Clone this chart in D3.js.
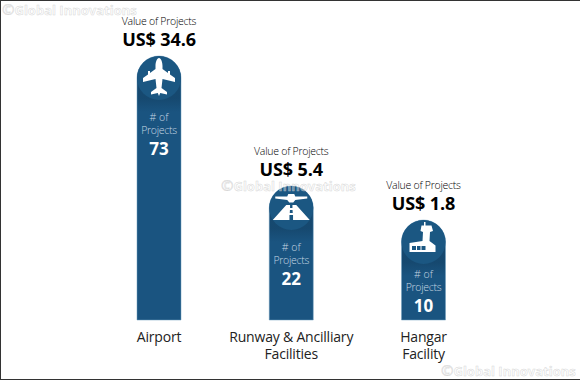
<!DOCTYPE html>
<html>
<head>
<meta charset="utf-8">
<script src="https://cdnjs.cloudflare.com/ajax/libs/d3/7.8.5/d3.min.js"></script>
<style>
html, body { margin: 0; padding: 0; background: #fff; }
svg { display: block; }
text { font-family: "Open Sans", sans-serif; text-anchor: middle; }
</style>
</head>
<body>
<script>
const categories = [["Airport"], ["Runway & Ancilliary", "Facilities"], ["Hangar", "Facility"]];
const projectValues = [34.6, 5.4, 1.8];
const projectCounts = [73, 22, 10];
const iconNames = ["plane", "runway", "tower"];

const width = 580, height = 380;
const barWidth = 44, radius = 22;

const svg = d3.select("body").append("svg")
    .attr("width", width)
    .attr("height", height);

// marco oscuro de la imagen
svg.append("rect").attr("width", width).attr("height", 1).attr("fill", "#333");
svg.append("rect").attr("width", 1).attr("height", height).attr("fill", "#333");
svg.append("rect").attr("y", height - 1).attr("width", width).attr("height", 1).attr("fill", "#333");

const x = d3.scalePoint()
    .domain(d3.range(categories.length))
    .range([159, 423.5]);

// las barras no son proporcionales en el original, escala por tramos
const y = d3.scaleLinear()
    .domain([0, 10, 22, 73])
    .range([320, 220, 186, 56]);

const defs = svg.append("defs");
const sombra = defs.append("linearGradient")
    .attr("id", "sombra")
    .attr("x1", 0).attr("x2", 0).attr("y1", 0).attr("y2", 1);
sombra.append("stop").attr("offset", 0.6).attr("stop-color", "#0e3350").attr("stop-opacity", 0.35);
sombra.append("stop").attr("offset", 1).attr("stop-color", "#0e3350").attr("stop-opacity", 0);

const grupos = svg.selectAll("g.barra")
    .data(categories.map((c, i) => ({ c, i, value: projectValues[i], count: projectCounts[i], icon: iconNames[i] })))
    .join("g")
    .attr("class", "barra")
    .attr("transform", d => `translate(${x(d.i)},0)`);

// barra
grupos.append("path")
    .attr("d", d => {
        const top = y(d.count) + radius;
        return `M${-barWidth / 2},320V${top}A${radius},${radius} 0 0 1 ${barWidth / 2},${top}V320Z`;
    })
    .attr("fill", "#1a5480")
    .attr("stroke", "#6f9dbd")
    .attr("stroke-width", 0.5);

// sombra debajo del circulo
grupos.append("rect")
    .attr("x", -barWidth / 2 + 0.5)
    .attr("y", d => y(d.count) + radius)
    .attr("width", barWidth - 1)
    .attr("height", radius + 12)
    .attr("fill", "url(#sombra)");

grupos.append("circle")
    .attr("cy", d => y(d.count) + radius)
    .attr("r", radius)
    .attr("fill", "#1b5782");

// iconos, relativos al centro del circulo
const iconos = {
    plane: "M0,-20C2,-20 3.5,-16 3.5,-12L3.5,-9L9,-5L9,-7L11,-7L11,-3.5L16,0L16,4L3.5,1L2.5,10L8,14L8,16.5L1.2,15L0,18L-1.2,15L-8,16.5L-8,14L-2.5,10L-3.5,1L-16,4L-16,0L-11,-3.5L-11,-7L-9,-7L-9,-5L-3.5,-9L-3.5,-12C-3.5,-16 -2,-20 0,-20Z",
    runway: "M-5,-3L-1.2,-3L-1.2,0L1.2,0L1.2,-3L5,-3L18.5,12L1.8,12L1.8,7L-1.8,7L-1.8,12L-18.5,12Z M-1.3,2L1.3,2L1.5,5L-1.5,5Z M-16,-11.5L-4,-11.5L-3,-14L3,-14L4,-11.5L16,-11.5L16,-9.5L4,-8L2,-5.5L-2,-5.5L-4,-8L-16,-9.5Z",
    tower: "M0.5,-20L2,-20L2,-16.5L8,-16.5L9.5,-11L6.5,-10L6,-1L12,3.5L12,10L-14,10L-14,1L-1,-1L-0.5,-10L-3,-11L-2,-16.5L0.5,-16.5Z M-11.5,4L-11.5,8L-7.5,8L-7.5,4Z M-6.5,4L-6.5,8L-3,8L-3,4Z M-2,4L-2,8L2,8L2,4Z"
};
grupos.append("path")
    .attr("transform", d => `translate(0,${y(d.count) + radius})`)
    .attr("d", d => iconos[d.icon])
    .attr("fill", "#fff")
    .attr("fill-rule", "evenodd");

// textos sobre la barra
grupos.append("text")
    .attr("y", d => y(d.count) - 31)
    .attr("font-size", 10.5)
    .attr("font-weight", 300)
    .attr("letter-spacing", -0.25)
    .attr("fill", "#000")
    .text("Value of Projects");

grupos.append("text")
    .attr("y", d => y(d.count) - 10)
    .attr("font-size", 18)
    .attr("font-weight", 700)
    .attr("letter-spacing", -0.1)
    .attr("fill", "#000")
    .text(d => "US$ " + d3.format(".1f")(d.value));

// la barra mas corta lleva sus textos mas arriba
const subirTexto = d => d.count === d3.min(projectCounts) ? 7 : 0;

// textos dentro de la barra
grupos.append("text")
    .attr("y", d => y(d.count) + 65 - subirTexto(d))
    .attr("font-size", 10.5)
    .attr("font-weight", 300)
    .attr("fill", "#c5d6e3")
    .text("# of");

grupos.append("text")
    .attr("y", d => y(d.count) + 78 - subirTexto(d))
    .attr("font-size", 10.5)
    .attr("font-weight", 300)
    .attr("letter-spacing", -0.3)
    .attr("fill", "#c5d6e3")
    .text("Projects");

grupos.append("text")
    .attr("y", d => y(d.count) + 99 - subirTexto(d))
    .attr("font-size", 17)
    .attr("font-weight", 700)
    .attr("fill", "#fff")
    .text(d => d.count);

// categorias
grupos.each(function (d) {
    d3.select(this).selectAll("text.cat")
        .data(d.c)
        .join("text")
        .attr("class", "cat")
        .attr("y", (t, i) => 342 + i * 17)
        .attr("font-size", 14)
        .attr("letter-spacing", -0.2)
        .attr("fill", "#222")
        .text(t => t);
});

// marcas de agua
const marcas = [[2, 15], [221, 191], [441, 376]];
const textoMarca = svg.selectAll("text.marca")
    .data(marcas)
    .join("text")
    .attr("class", "marca")
    .attr("x", d => d[0])
    .attr("y", d => d[1])
    .attr("font-size", 13)
    .attr("font-weight", 700)
    .attr("fill", "#fafafa")
    .attr("fill-opacity", 0.4)
    .attr("stroke", "#c6c6c6")
    .attr("stroke-opacity", 0.7)
    .attr("stroke-width", 0.5)
    .style("text-anchor", "start");
textoMarca.append("tspan").attr("font-size", 15).attr("font-weight", 400).text("©");
textoMarca.append("tspan").text("Global Innovations");
</script>
</body>
</html>
